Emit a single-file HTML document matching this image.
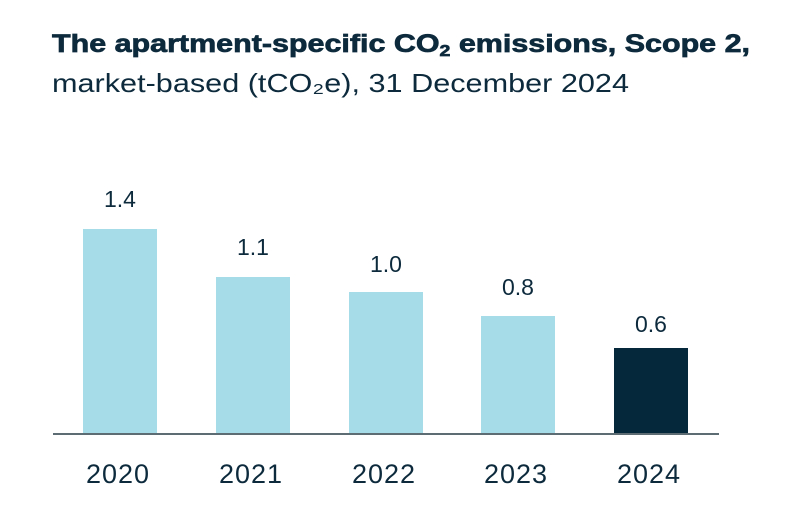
<!DOCTYPE html>
<html>
<head>
<meta charset="utf-8">
<style>
  html, body { margin: 0; padding: 0; background: #ffffff; }
  body { width: 792px; height: 508px; overflow: hidden; }
  svg { display: block; }
  text { font-family: "Liberation Sans", "DejaVu Sans", sans-serif; fill: #0c2a3c; }
</style>
</head>
<body>
<svg width="792" height="508" viewBox="0 0 792 508" xmlns="http://www.w3.org/2000/svg">
  <rect width="792" height="508" fill="#ffffff"/>
  <!-- Title -->
  <text x="52" y="52" font-size="25" font-weight="bold" stroke="#0c2a3c" stroke-width="0.7" textLength="698" lengthAdjust="spacingAndGlyphs">The apartment-specific CO<tspan font-size="16" dy="4">2</tspan><tspan dy="-4"> emissions, Scope 2,</tspan></text>
  <text x="52" y="92" font-size="26" textLength="577" lengthAdjust="spacingAndGlyphs">market-based (tCO₂e), 31 December 2024</text>

  <!-- Bars -->
  <rect x="83" y="229" width="74" height="205" fill="#a6dce8"/>
  <rect x="216" y="277" width="74" height="157" fill="#a6dce8"/>
  <rect x="349" y="292" width="74" height="142" fill="#a6dce8"/>
  <rect x="481" y="316" width="74" height="118" fill="#a6dce8"/>
  <rect x="614" y="348" width="74" height="86" fill="#05283a"/>

  <!-- Axis line -->
  <line x1="53" y1="434" x2="719" y2="434" stroke="#5d6b72" stroke-width="2"/>

  <!-- Value labels -->
  <g font-size="23" text-anchor="middle">
    <text x="120" y="207">1.4</text>
    <text x="253" y="255">1.1</text>
    <text x="386" y="272">1.0</text>
    <text x="518" y="295">0.8</text>
    <text x="651" y="332">0.6</text>
  </g>

  <!-- Year labels -->
  <g font-size="27" text-anchor="middle" letter-spacing="1">
    <text x="118" y="483">2020</text>
    <text x="251" y="483">2021</text>
    <text x="384" y="483">2022</text>
    <text x="516" y="483">2023</text>
    <text x="649" y="483">2024</text>
  </g>
</svg>
</body>
</html>
